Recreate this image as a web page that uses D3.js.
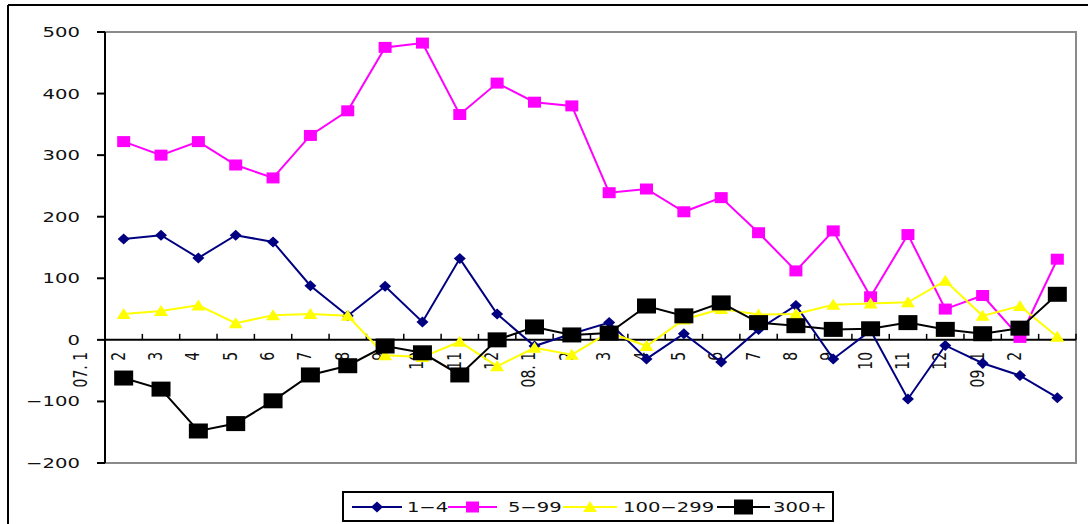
<!DOCTYPE html>
<html>
<head>
<meta charset="utf-8">
<script src="https://cdn.jsdelivr.net/npm/d3@7"></script>
<style>
  html, body { margin: 0; padding: 0; background: #fff; }
  svg { display: block; }
  text { font-family: "DejaVu Sans", sans-serif; fill: #111; }
</style>
</head>
<body>
<svg id="chart" width="1088" height="524"></svg>
<script>
// Month labels along the category axis
const months = ["07. 1","2","3","4","5","6","7","8","9","10","11","12",
                "08. 1","2","3","4","5","6","7","8","9","10","11","12",
                "09. 1","2"];

// Series values (net change by size class)
const s1to4 = [164,170,133,170,159,88,39,87,29,132,42,-10,10,28,-31,10,-36,17,56,-31,15,-96,-9,-38,-58,-94];
const s5to99 = [322,300,322,284,263,332,372,475,482,366,417,386,380,239,245,208,231,174,112,177,70,171,50,72,4,131];
const s100to299 = [42,47,56,27,40,42,39,-25,-28,-3,-43,-13,-24,12,-10,33,50,41,42,57,59,61,96,39,55,5];
const s300plus = [-62,-80,-148,-136,-99,-57,-42,-10,-21,-57,0,21,8,11,55,39,60,28,23,17,18,28,17,10,19,74];

const yTicks = [-200,-100,0,100,200,300,400,500];

const series = [
  { name: "1\u22124",     values: s1to4,     color: "#000080", marker: "diamond" },
  { name: "5\u221299",    values: s5to99,    color: "#FF00FF", marker: "square" },
  { name: "100\u2212299", values: s100to299, color: "#FFFF00", marker: "triangle" },
  { name: "300+",         values: s300plus,  color: "#000000", marker: "bigsquare" }
];

const plot = { left: 105, right: 1076, top: 32, bottom: 463 };
const stretch = 1.4; // wide type face

const svg = d3.select("#chart");

const x = d3.scaleBand()
  .domain(d3.range(months.length))
  .range([plot.left, plot.right])
  .paddingInner(0).paddingOuter(0);
const bw = x.bandwidth();
const cx = i => x(i) + bw / 2;

const y = d3.scaleLinear().domain([-200, 500]).range([plot.bottom, plot.top]);

// Outer chart frame
svg.append("line").attr("x1", 8).attr("x2", 1088).attr("y1", 5).attr("y2", 5)
  .attr("stroke", "#000").attr("stroke-width", 2);
svg.append("line").attr("x1", 8).attr("x2", 8).attr("y1", 5).attr("y2", 524)
  .attr("stroke", "#000").attr("stroke-width", 2);

// Plot area frame (top, right, bottom in grey)
svg.append("path")
  .attr("d", `M${plot.left},${plot.top}H${plot.right}V${plot.bottom}H${plot.left}`)
  .attr("fill", "none").attr("stroke", "#8a8a8a").attr("stroke-width", 2);

// Value axis
const yAxis = svg.append("g");
yAxis.append("line")
  .attr("x1", plot.left).attr("x2", plot.left)
  .attr("y1", plot.top).attr("y2", plot.bottom)
  .attr("stroke", "#000").attr("stroke-width", 2);
yAxis.selectAll("line.tick").data(yTicks).join("line")
  .attr("class", "tick")
  .attr("x1", plot.left - 8).attr("x2", plot.left)
  .attr("y1", d => y(d)).attr("y2", d => y(d))
  .attr("stroke", "#000").attr("stroke-width", 2);
yAxis.selectAll("text").data(yTicks).join("text")
  .attr("transform", d => `translate(80,${y(d)}) scale(${stretch},1)`)
  .attr("text-anchor", "end")
  .attr("dy", "0.36em")
  .style("font-size", "14px")
  .text(d => d < 0 ? "\u2212" + Math.abs(d) : String(d));

// Category axis along zero
const xAxis = svg.append("g");
xAxis.append("line")
  .attr("x1", plot.left).attr("x2", plot.right)
  .attr("y1", y(0)).attr("y2", y(0))
  .attr("stroke", "#000").attr("stroke-width", 2);
xAxis.selectAll("line.tick").data(d3.range(1, months.length + 1)).join("line")
  .attr("class", "tick")
  .attr("x1", d => plot.left + d * bw).attr("x2", d => plot.left + d * bw)
  .attr("y1", y(0) - 6).attr("y2", y(0))
  .attr("stroke", "#000").attr("stroke-width", 1.5);
// labels sit one band ahead of their points, rotated
xAxis.selectAll("text").data(months).join("text")
  .attr("transform", (d, i) => `translate(${cx(i) - bw + 1},${y(0) + 12}) scale(${stretch},1) rotate(-90)`)
  .attr("text-anchor", "end")
  .style("font-size", "14px")
  .text(d => d);

// Marker shapes
function markerPath(kind) {
  switch (kind) {
    case "diamond":  return "M0,-5.5L6,0L0,5.5L-6,0Z";
    case "square":   return "M-6.5,-5.5H6.5V5.5H-6.5Z";
    case "triangle": return "M0,-6L7,5H-7Z";
    case "bigsquare":return "M-9.5,-7.5H9.5V7.5H-9.5Z";
  }
}

const line = d3.line().x((d, i) => cx(i)).y(d => y(d));

series.forEach(s => {
  const g = svg.append("g");
  g.append("path")
    .attr("d", line(s.values))
    .attr("fill", "none")
    .attr("stroke", s.color)
    .attr("stroke-width", 2);
  g.selectAll("path.m").data(s.values).join("path")
    .attr("class", "m")
    .attr("transform", (d, i) => `translate(${cx(i)},${y(d)})`)
    .attr("d", markerPath(s.marker))
    .attr("fill", s.color);
});

// Legend
const legend = svg.append("g");
legend.append("rect")
  .attr("x", 343).attr("y", 492).attr("width", 490).attr("height", 29)
  .attr("fill", "#fff").attr("stroke", "#000").attr("stroke-width", 2);
const legendLayout = [
  { x1: 352, x2: 402, tx: 407 },
  { x1: 448, x2: 497, tx: 508 },
  { x1: 563, x2: 617, tx: 623 },
  { x1: 717, x2: 770, tx: 773 }
];
series.forEach((s, k) => {
  const L = legendLayout[k];
  const cy = 507;
  legend.append("line")
    .attr("x1", L.x1).attr("x2", L.x2).attr("y1", cy).attr("y2", cy)
    .attr("stroke", s.color).attr("stroke-width", 2);
  legend.append("path")
    .attr("transform", `translate(${(L.x1 + L.x2) / 2},${cy})`)
    .attr("d", markerPath(s.marker))
    .attr("fill", s.color);
  legend.append("text")
    .attr("transform", `translate(${L.tx},${cy}) scale(${stretch},1)`)
    .attr("dy", "0.36em")
    .style("font-size", "14px")
    .text(s.name);
});
</script>
</body>
</html>
